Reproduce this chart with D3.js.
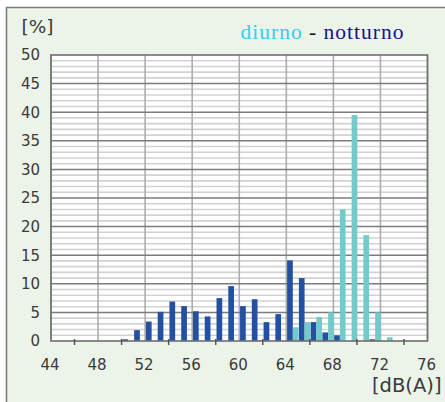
<!DOCTYPE html>
<html>
<head>
<meta charset="utf-8">
<script src="https://cdn.jsdelivr.net/npm/d3@7"></script>
<style>
  html, body { margin: 0; padding: 0; background: #ffffff; }
  svg { display: block; }
</style>
</head>
<body>
<svg id="chart" width="445" height="402"></svg>
<script>
// ---- data ----
const categories = [44,45,46,47,48,49,50,51,52,53,54,55,56,57,58,59,60,61,62,63,64,65,66,67,68,69,70,71,72,73,74,75];
const notturno   = [0,0,0,0,0,0,0.3,1.9,3.4,5.1,6.9,6.1,5.2,4.3,7.5,9.6,6.1,7.3,3.3,4.7,14.1,11.0,3.3,1.5,1.0,0,0,0.3,0,0,0,0];
const diurno     = [0,0,0,0,0,0,0,0,0,0,0,0,0,0,0,0,0,0,0,0,2.4,3.3,4.2,5.0,23.0,39.5,18.5,5.0,0.65,0,0,0];
const xTickLabels = [44,48,52,56,60,64,68,72,76];
const xTickMarks  = [46,50,54,58,62,66,70,74];
const yTickLabels = [0,5,10,15,20,25,30,35,40,45,50];
const seriesNames = ["notturno","diurno"];
const seriesColors = {notturno: "#2350a2", diurno: "#73caca"};

// ---- layout ----
const svg = d3.select("#chart");
const pL = 51, pR = 427.5, pT = 55, pB = 341;

svg.append("rect").attr("x",0).attr("y",0).attr("width",445).attr("height",402).attr("fill","#ffffff");
svg.append("rect").attr("x",6.5).attr("y",7.5).attr("width",460).attr("height",420)
   .attr("fill","#ecf3e8").attr("stroke","#7a7a7a").attr("stroke-width",1.5);

const x = d3.scaleLinear().domain([44,76]).range([pL,pR]);
const y = d3.scaleLinear().domain([0,50]).range([pB,pT]);
const inner = d3.scaleBand().domain(seriesNames).range([0.8, 12.2]).padding(0);

// plot background
svg.append("rect").attr("x",pL).attr("y",pT).attr("width",pR-pL).attr("height",pB-pT).attr("fill","#ffffff");

// minor horizontal gridlines
const minor = d3.range(1,50).filter(d => d % 5 !== 0);
svg.append("g").selectAll("line").data(minor).join("line")
  .attr("x1",pL).attr("x2",pR).attr("y1",d=>y(d)).attr("y2",d=>y(d))
  .attr("stroke","#d2d2d2").attr("stroke-width",1.6);

// vertical gridlines
svg.append("g").selectAll("line").data(xTickLabels).join("line")
  .attr("x1",d=>x(d)).attr("x2",d=>x(d)).attr("y1",pT).attr("y2",pB)
  .attr("stroke","#adadad").attr("stroke-width",1.6);

// major horizontal gridlines
svg.append("g").selectAll("line").data(yTickLabels.filter(d=>d>0 && d<50)).join("line")
  .attr("x1",pL).attr("x2",pR).attr("y1",d=>y(d)).attr("y2",d=>y(d))
  .attr("stroke","#7c7c7c").attr("stroke-width",1.5);

// bars
const rows = categories.map((c,i) => ({c, notturno: notturno[i], diurno: diurno[i]}));
const gBars = svg.append("g");
seriesNames.forEach(s => {
  gBars.selectAll("rect."+s).data(rows.filter(r => r[s] > 0)).join("rect")
    .attr("class", s)
    .attr("x", r => x(r.c) + inner(s))
    .attr("width", inner.bandwidth())
    .attr("y", r => y(r[s]))
    .attr("height", r => y(0) - y(r[s]))
    .attr("fill", seriesColors[s]);
});

// plot border
svg.append("rect").attr("x",pL).attr("y",pT).attr("width",pR-pL).attr("height",pB-pT)
  .attr("fill","none").attr("stroke","#6e6e6e").attr("stroke-width",1.6);

// x tick marks
svg.append("g").selectAll("line").data(xTickMarks).join("line")
  .attr("x1",d=>x(d)).attr("x2",d=>x(d)).attr("y1",pB-2).attr("y2",pB+4)
  .attr("stroke","#555").attr("stroke-width",1.5);

const font = "'DejaVu Sans', Verdana, sans-serif";
// y labels
svg.append("g").selectAll("text").data(yTickLabels).join("text")
  .attr("x",40).attr("y",d=>y(d)).attr("dy","0.36em")
  .attr("text-anchor","end").attr("font-family",font).attr("font-size",15).attr("fill","#3a3a3a")
  .text(d=>d);

// x labels
svg.append("g").selectAll("text").data(xTickLabels).join("text")
  .attr("x",d=>x(d)-1).attr("y",370)
  .attr("text-anchor","middle").attr("font-family",font).attr("font-size",15).attr("fill","#3a3a3a")
  .text(d=>d);

// axis titles
svg.append("text").attr("x",21.5).attr("y",33).attr("font-family",font).attr("font-size",18.5).attr("fill","#3a3a3a").text("[%]");
svg.append("text").attr("x",441.5).attr("y",391.5).attr("text-anchor","end").attr("font-family",font).attr("font-size",19.5).attr("fill","#3a3a3a").text("[dB(A)]");

// legend title
const t = svg.append("text").attr("x",240.5).attr("y",39).attr("font-family","'Liberation Serif', 'Times New Roman', serif")
  .attr("font-size",21.5).attr("letter-spacing",1.0);
t.append("tspan").attr("fill","#2fd0f2").text("diurno");
t.append("tspan").attr("fill","#111111").text(" - ");
t.append("tspan").attr("fill","#14148c").text("notturno");
</script>
</body>
</html>
